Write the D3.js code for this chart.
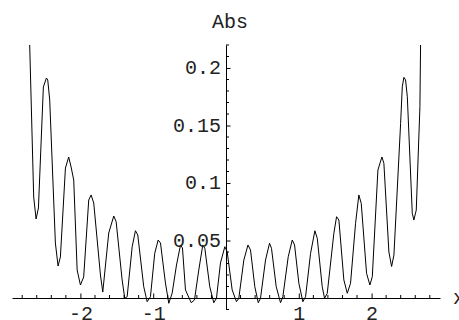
<!DOCTYPE html>
<html>
<head>
<meta charset="utf-8">
<script src="https://cdn.jsdelivr.net/npm/d3@7"></script>
<style>
  html, body { margin: 0; padding: 0; background: #fff; }
  svg { display: block; }
  text { font-family: "Liberation Mono", "Courier New", monospace; font-size: 20px; fill: #222; }
</style>
</head>
<body>
<svg id="chart" width="459" height="320"></svg>
<script>
// curve vertices (x, Abs value)
const xs = [
  -2.711, -2.697, -2.642, -2.609, -2.577, -2.509, -2.467, -2.449, -2.422, -2.344,
  -2.307, -2.275, -2.206, -2.161, -2.128, -2.092, -2.045, -2.000, -1.955, -1.886,
  -1.853, -1.817, -1.725, -1.693, -1.611, -1.542, -1.509, -1.427, -1.391, -1.358,
  -1.289, -1.244, -1.212, -1.130, -1.083, -1.038, -0.979, -0.932, -0.900, -0.832,
  -0.786, -0.740, -0.680, -0.625, -0.598, -0.557, -0.478, -0.433, -0.374, -0.319,
  -0.291, -0.223, -0.168, -0.131, -0.076, -0.016, 0.016, 0.085, 0.144, 0.176,
  0.245, 0.302, 0.337, 0.396, 0.443, 0.474, 0.543, 0.598, 0.625, 0.690,
  0.749, 0.781, 0.855, 0.910, 0.942, 1.001, 1.056, 1.093, 1.162, 1.221,
  1.254, 1.322, 1.354, 1.391, 1.482, 1.519, 1.551, 1.619, 1.666, 1.711,
  1.780, 1.825, 1.858, 1.931, 1.977, 2.010, 2.087, 2.142, 2.169, 2.238,
  2.275, 2.307, 2.399, 2.422, 2.444, 2.467, 2.491, 2.559, 2.581, 2.614,
  2.664, 2.673, 2.677
];
const ys = [
  0.237, 0.220, 0.0878, 0.0687, 0.0783, 0.1835, 0.1913, 0.1896, 0.1722, 0.0478,
  0.0278, 0.0357, 0.1130, 0.1226, 0.1139, 0.1026, 0.0243, 0.0113, 0.0183, 0.0852,
  0.0896, 0.0826, 0.0200, 0.0052, 0.0565, 0.0713, 0.0663, 0.0157, -0.0003, 0.0011,
  0.0446, 0.0585, 0.0548, 0.0098, -0.0032, 0.0011, 0.0389, 0.0504, 0.0478, 0.0130,
  -0.0046, 0.0041, 0.0287, 0.0461, 0.0435, 0.0070, -0.0041, -0.0017, 0.0243, 0.0461,
  0.0432, 0.0098, -0.0041, -0.0003, 0.0304, 0.0446, 0.0403, 0.0070, -0.0032, -0.0003,
  0.0330, 0.0461, 0.0417, 0.0098, -0.0041, -0.0003, 0.0330, 0.0476, 0.0432, 0.0098,
  -0.0041, 0.0011, 0.0359, 0.0504, 0.0461, 0.0128, -0.0032, 0.0011, 0.0389, 0.0585,
  0.0519, 0.0098, -0.0003, 0.0041, 0.0563, 0.0707, 0.0678, 0.0157, 0.0041, 0.0128,
  0.0650, 0.0896, 0.0823, 0.0215, 0.0113, 0.0185, 0.1113, 0.1226, 0.1171, 0.0400,
  0.0274, 0.0374, 0.1519, 0.1837, 0.1919, 0.1896, 0.1750, 0.0737, 0.0678, 0.0765,
  0.1663, 0.220, 0.240
];

const xMajor = [-2, -1, 1, 2];
const xTickLabels = ["-2", "-1", "1", "2"];
const yMajor = [0.05, 0.1, 0.15, 0.2];
const yTickLabels = ["0.05", "0.1", "0.15", "0.2"];
const xLabel = "x";
const yLabel = "Abs";

const svg = d3.select("#chart");

const x = d3.scaleLinear().domain([-2.94, 2.94]).range([12, 440]);
const y = d3.scaleLinear().domain([-0.01, 0.22]).range([309.5, 45]);

// minor tick positions, every 0.2 on x and every 0.01 on y
const xMinor = d3.range(-28, 29, 2).map(d => d / 10).filter(d => !xMajor.includes(d) && d !== 0);
const yMinor = d3.range(-1, 23).map(d => d / 100).filter(d => Math.abs((d * 100) % 5) > 1e-6);

// clip the curve to the plot range
svg.append("defs").append("clipPath")
  .attr("id", "plotclip")
  .append("rect")
  .attr("x", 0).attr("y", y(0.22))
  .attr("width", 459).attr("height", 320 - y(0.22));

const line = d3.line()
  .x(i => x(xs[i]))
  .y(i => y(ys[i]));

svg.append("path")
  .datum(d3.range(xs.length))
  .attr("clip-path", "url(#plotclip)")
  .attr("fill", "none")
  .attr("stroke", "#000")
  .attr("stroke-width", 1)
  .attr("d", line);

// x axis through y = 0, ticks pointing up
const xAxis = svg.append("g")
  .attr("transform", `translate(0,${y(0)})`)
  .call(d3.axisBottom(x)
    .tickValues(xMajor)
    .tickSize(-4.5)
    .tickSizeOuter(0)
    .tickFormat((d, i) => xTickLabels[i]));
xAxis.selectAll("text").attr("y", 21.5).attr("dy", 0);
xAxis.attr("font-family", null).attr("font-size", null);

svg.append("g")
  .attr("transform", `translate(0,${y(0)})`)
  .selectAll("line")
  .data(xMinor)
  .join("line")
  .attr("x1", d => x(d)).attr("x2", d => x(d))
  .attr("y1", 0).attr("y2", -3)
  .attr("stroke", "#000");

// y axis through x = 0, ticks pointing right
const yAxis = svg.append("g")
  .attr("transform", `translate(${x(0)},0)`)
  .call(d3.axisLeft(y)
    .tickValues(yMajor)
    .tickSize(-4.5)
    .tickSizeOuter(0)
    .tickPadding(5)
    .tickFormat((d, i) => yTickLabels[i]));
yAxis.selectAll("text").attr("dy", "0.28em");
yAxis.attr("font-family", null).attr("font-size", null);

svg.append("g")
  .attr("transform", `translate(${x(0)},0)`)
  .selectAll("line")
  .data(yMinor)
  .join("line")
  .attr("x1", 0).attr("x2", 3)
  .attr("y1", d => y(d)).attr("y2", d => y(d))
  .attr("stroke", "#000");

// axis labels
svg.append("text")
  .attr("x", x(0) + 4)
  .attr("y", 28)
  .attr("text-anchor", "middle")
  .text(yLabel);

svg.append("text")
  .attr("x", 453)
  .attr("y", y(0) + 6)
  .text(xLabel);
</script>
</body>
</html>
